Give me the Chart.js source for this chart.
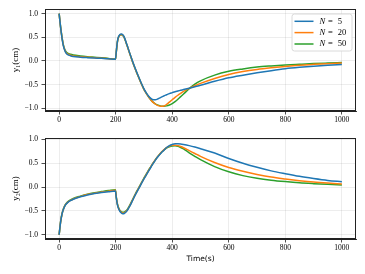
<!DOCTYPE html>
<html><head><meta charset="utf-8">
<script src="https://cdn.jsdelivr.net/npm/chart.js@4.4.1/dist/chart.umd.min.js"></script>
<style>
html,body{margin:0;padding:0;background:#fff;overflow:hidden;width:365px;height:274px}
#c1{position:absolute;left:0;top:0}
#c2{position:absolute;left:0;top:130px}
</style></head>
<body>
<canvas id="c1" width="365" height="130"></canvas>
<canvas id="c2" width="365" height="144"></canvas>
<script>
// ---------- data ----------
const time = [0,5,10,15,20,25,30,40,50,75,100,125,150,175,199,202,206,210,215,220,225,230,240,250,260,270,280,290,300,310,320,330,340,350,360,370,380,390,400,410,420,430,440,460,480,500,550,600,650,700,750,800,850,900,950,1000];

const seriesNames = ['N = 5', 'N = 20', 'N = 50'];

const y1_N5 = [1.0,0.72,0.49,0.32,0.22,0.16,0.135,0.11,0.095,0.08,0.07,0.062,0.055,0.045,0.035,
  0.19,0.41,0.51,0.56,0.57,0.555,0.51,0.34,0.16,-0.01,-0.17,-0.32,-0.46,-0.59,-0.69,-0.77,-0.815,-0.82,-0.8,-0.77,-0.74,-0.715,-0.69,-0.67,-0.65,-0.635,-0.62,-0.605,-0.575,-0.545,-0.515,-0.43,-0.355,-0.3,-0.25,-0.205,-0.165,-0.135,-0.11,-0.09,-0.074];
const y1_N20 = [1.0,0.72,0.5,0.33,0.23,0.17,0.15,0.12,0.105,0.09,0.078,0.068,0.058,0.048,0.035,
  0.18,0.4,0.5,0.55,0.56,0.545,0.5,0.33,0.15,-0.02,-0.18,-0.33,-0.47,-0.6,-0.7,-0.79,-0.86,-0.91,-0.945,-0.96,-0.955,-0.92,-0.87,-0.82,-0.77,-0.725,-0.685,-0.645,-0.58,-0.525,-0.475,-0.37,-0.285,-0.225,-0.18,-0.145,-0.115,-0.09,-0.072,-0.057,-0.045];
const y1_N50 = [1.0,0.73,0.51,0.34,0.24,0.19,0.165,0.14,0.125,0.105,0.09,0.078,0.066,0.052,0.035,
  0.18,0.4,0.5,0.545,0.555,0.54,0.495,0.33,0.15,-0.02,-0.18,-0.33,-0.47,-0.6,-0.7,-0.79,-0.86,-0.905,-0.935,-0.955,-0.96,-0.95,-0.93,-0.9,-0.86,-0.81,-0.755,-0.7,-0.585,-0.49,-0.42,-0.3,-0.22,-0.17,-0.13,-0.105,-0.085,-0.07,-0.056,-0.045,-0.035];

const y2_N5 = [-1.0,-0.74,-0.57,-0.47,-0.4,-0.355,-0.325,-0.285,-0.255,-0.205,-0.165,-0.135,-0.115,-0.097,-0.082,
  -0.22,-0.37,-0.45,-0.51,-0.545,-0.56,-0.555,-0.5,-0.4,-0.28,-0.16,-0.05,0.06,0.17,0.27,0.37,0.47,0.56,0.64,0.71,0.77,0.83,0.87,0.895,0.91,0.91,0.905,0.895,0.87,0.84,0.805,0.715,0.6,0.5,0.415,0.34,0.28,0.225,0.18,0.14,0.11];
const y2_N20 = [-1.0,-0.74,-0.57,-0.465,-0.395,-0.35,-0.32,-0.28,-0.25,-0.2,-0.158,-0.128,-0.105,-0.085,-0.068,
  -0.21,-0.36,-0.44,-0.5,-0.53,-0.545,-0.54,-0.49,-0.39,-0.27,-0.15,-0.04,0.07,0.18,0.28,0.38,0.48,0.57,0.65,0.72,0.78,0.83,0.86,0.875,0.88,0.87,0.85,0.825,0.765,0.705,0.645,0.515,0.41,0.33,0.265,0.21,0.17,0.135,0.105,0.083,0.065];
const y2_N50 = [-1.0,-0.735,-0.565,-0.46,-0.39,-0.345,-0.31,-0.27,-0.24,-0.19,-0.148,-0.118,-0.095,-0.073,-0.055,
  -0.2,-0.35,-0.43,-0.49,-0.515,-0.53,-0.525,-0.48,-0.38,-0.26,-0.14,-0.03,0.08,0.19,0.29,0.39,0.48,0.57,0.65,0.72,0.775,0.82,0.845,0.86,0.865,0.855,0.83,0.8,0.72,0.645,0.575,0.43,0.32,0.24,0.185,0.145,0.115,0.09,0.072,0.057,0.045];

const xTicks = [0,200,400,600,800,1000];
const xTickLabels = ['0','200','400','600','800','1000'];
const yTicks = [-1,-0.5,0,0.5,1];
const yTickLabels = ['\u22121.0','\u22120.5','0.0','0.5','1.0'];

const colors = ['#1f77b4','#ff7f0e','#2ca02c'];
const SERIF = "'Liberation Serif', 'DejaVu Serif', serif";

// ---------- plugins ----------
const framePlugin = {
  id: 'frame',
  afterDatasetsDraw(chart) {
    const {ctx, chartArea: a} = chart;
    ctx.save();
    ctx.strokeStyle = '#222';
    ctx.lineWidth = 1;
    ctx.strokeRect(Math.round(a.left) + 0.5, Math.round(a.top) + 0.5, Math.round(a.right - a.left) - 1, Math.round(a.bottom - a.top) - 1);
    ctx.restore();
  }
};

const legendPlugin = {
  id: 'innerLegend',
  afterDraw(chart, args, opts) {
    if (!opts || !opts.show) return;
    const ctx = chart.ctx;
    const bx = 292, by = 14, bw = 60, bh = 37, r = 2.5;
    ctx.save();
    ctx.beginPath();
    ctx.moveTo(bx + r, by);
    ctx.lineTo(bx + bw - r, by); ctx.quadraticCurveTo(bx + bw, by, bx + bw, by + r);
    ctx.lineTo(bx + bw, by + bh - r); ctx.quadraticCurveTo(bx + bw, by + bh, bx + bw - r, by + bh);
    ctx.lineTo(bx + r, by + bh); ctx.quadraticCurveTo(bx, by + bh, bx, by + bh - r);
    ctx.lineTo(bx, by + r); ctx.quadraticCurveTo(bx, by, bx + r, by);
    ctx.closePath();
    ctx.fillStyle = 'rgba(255,255,255,0.85)';
    ctx.fill();
    ctx.strokeStyle = '#d0d0d0';
    ctx.lineWidth = 0.8;
    ctx.stroke();
    const rows = [21.3, 32.6, 44];
    chart.data.datasets.forEach((ds, i) => {
      const y = rows[i];
      ctx.beginPath();
      ctx.strokeStyle = ds.borderColor;
      ctx.lineWidth = 1.5;
      ctx.moveTo(294.5, y); ctx.lineTo(313.5, y);
      ctx.stroke();
      ctx.fillStyle = '#000';
      ctx.textBaseline = 'middle';
      ctx.textAlign = 'left';
      const parts = ds.label.split(' ');
      ctx.font = "italic 8.5px " + SERIF;
      ctx.fillText(parts[0], 319.5, y);
      ctx.font = "8.5px " + SERIF;
      ctx.fillText(parts[1], 328, y);
      ctx.fillText(parts[2], 337.8, y);
    });
    ctx.restore();
  }
};

function makeChart(id, ys, yLabel, opt) {
  const datasets = ys.map((vals, i) => ({
    label: seriesNames[i],
    data: time.map((t, k) => ({x: t, y: vals[k]})),
    borderColor: colors[i],
    backgroundColor: colors[i],
    borderWidth: 1.5,
    pointRadius: 0,
    cubicInterpolationMode: 'monotone',
    fill: false
  }));
  return new Chart(document.getElementById(id), {
    type: 'line',
    data: {datasets},
    plugins: [framePlugin, legendPlugin],
    options: {
      responsive: false,
      animation: false,
      devicePixelRatio: 1,
      layout: {padding: {top: opt.padTop, right: 9, left: 0, bottom: 0}},
      plugins: {
        legend: {display: false},
        tooltip: {enabled: false},
        innerLegend: {show: opt.legend}
      },
      scales: {
        x: {
          type: 'linear',
          min: -50, max: 1050,
          afterBuildTicks: s => { s.ticks = xTicks.map(v => ({value: v})); },
          afterFit: s => { s.height = opt.xHeight; },
          ticks: {
            autoSkip: false, maxRotation: 0, padding: 1, color: '#000',
            font: {family: SERIF, size: 7.5},
            callback: (v, i) => xTickLabels[i]
          },
          grid: {color: 'rgba(0,0,0,0.09)', lineWidth: 0.8, tickLength: 3.5, tickColor: '#222', tickWidth: 0.8},
          border: {color: '#222', width: 1},
          title: {
            display: !!opt.xTitle, text: opt.xTitle || '', color: '#000',
            font: {family: "'DejaVu Sans', sans-serif", size: 7.5},
            padding: {top: 0, bottom: 10}
          }
        },
        y: {
          type: 'linear',
          min: opt.yMin, max: opt.yMax,
          afterBuildTicks: s => { s.ticks = yTicks.map(v => ({value: v})); },
          afterFit: s => { s.width = 45; },
          ticks: {
            padding: 3.5, color: '#000',
            font: {family: SERIF, size: 7.5},
            callback: (v, i) => yTickLabels[i]
          },
          grid: {color: 'rgba(0,0,0,0.09)', lineWidth: 0.8, tickLength: 3.5, tickColor: '#222', tickWidth: 0.8},
          border: {color: '#222', width: 1},
          title: {
            display: true, text: yLabel, color: '#000',
            font: {family: SERIF, size: 9},
            padding: {top: 10, bottom: 0}
          }
        }
      }
    }
  });
}

makeChart('c1', [y1_N5, y1_N20, y1_N50], 'y\u2081(cm)', {padTop: 9, xHeight: 19, yMin: -1.058, yMax: 1.098, legend: true});
makeChart('c2', [y2_N5, y2_N20, y2_N50], 'y\u2082(cm)', {padTop: 6, xHeight: 35, yMin: -1.09, yMax: 1.03, legend: false, xTitle: 'Time(s)'});
</script>
</body></html>
